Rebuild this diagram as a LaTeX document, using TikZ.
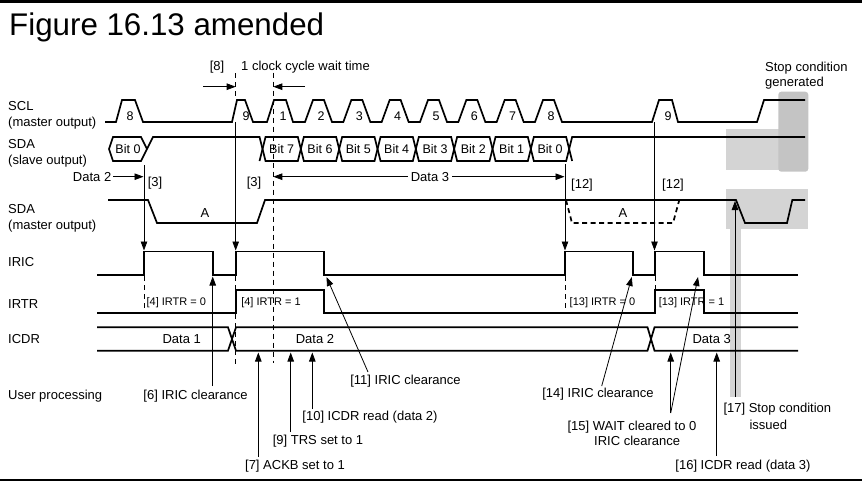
\documentclass[tikz,border=0pt]{standalone}
\usepackage{fontspec}
\setmainfont{Liberation Sans}
\usetikzlibrary{arrows.meta}
\begin{document}
\begin{tikzpicture}[x=1pt,y=-1pt,
  wave/.style={line width=1.7pt},
  wavedash/.style={line width=1.7pt,dash pattern=on 5pt off 3.5pt},
  arr/.style={line width=0.8pt,-{Triangle[length=9pt,width=6.5pt]}},
  plain/.style={line width=0.8pt},
  dashl/.style={line width=0.8pt,dash pattern=on 5pt off 4pt},
  tl/.style={font=\fontsize{13}{15}\selectfont,inner sep=0pt},
  ts/.style={font=\fontsize{11}{13}\selectfont,inner sep=0pt},
  tb/.style={font=\fontsize{12.5}{14}\selectfont,inner sep=0pt},
  lightbox/.style={fill=black!17},
  darkbox/.style={fill=black!23},
]
\useasboundingbox (0,0) rectangle (866,487);
% frame lines
\draw[line width=2.7pt] (0,1.3) -- (862,1.3);
\draw[line width=2.7pt] (0,480) -- (862,480);
% title
\node[font=\fontsize{31.3}{35}\selectfont,inner sep=0pt,anchor=base west] (title) at (9,35.7) {Figure 16.13 amended};

% gray highlight areas
\fill[lightbox] (726,129.3) rectangle (808,170);
\fill[darkbox,rounded corners=3pt] (778.3,91.7) rectangle (808.3,171.7);
\fill[lightbox] (726,189.3) rectangle (808.3,229.3);
\fill[lightbox] (730,229.3) rectangle (740.7,397.3);

% left labels
\node[tl,anchor=base west] (lscl) at (8,110) {SCL};
\node[tl,anchor=base west] (lsclm) at (8,126) {(master output)};
\node[tl,anchor=base west] (lsdas) at (8,148) {SDA};
\node[tl,anchor=base west] (lsdasm) at (8,164) {(slave output)};
\node[tl,anchor=base west] (lsdam) at (8,213) {SDA};
\node[tl,anchor=base west] (lsdamm) at (8,229) {(master output)};
\node[tl,anchor=base west] (liric) at (8,266) {IRIC};
\node[tl,anchor=base west] (lirtr) at (8,308) {IRTR};
\node[tl,anchor=base west] (licdr) at (8,343.5) {ICDR};
\node[tl,anchor=base west] (luser) at (8,399) {User processing};

% SCL
\draw[wave] (105,122) -- (116,122) -- (122,100) -- (135,100) -- (143,122)
  -- (232,122) -- (237,100) -- (245,100) -- (253,122)
  -- (267,122) -- (274,100) -- (286,100) -- (293,122)
  \foreach \s in {305,343.33,381.67,420,458.33,496.67,535} { -- (\s,122) -- (\s+8,100) -- (\s+19,100) -- (\s+27,122) }
  -- (652,122) -- (659,100) -- (672,100) -- (678,122) -- (757,122) -- (764,100) -- (805,100);
\node[tb] (p8a) at (130,116) {8};
\node[tb] (p9a) at (246,116) {9};
\node[tb] (p1) at (283,116) {1};
\foreach \s/\n in {305/2,343.33/3,381.67/4,420/5,458.33/6,496.67/7,535/8}
  \node[tb] (p\n) at (\s+16,116) {\n};
\node[tb] (p9b) at (668,116) {9};

% SDA slave output
\draw[wave] (147,149) -- (141,137) -- (113,137) -- (109,149) -- (113,161) -- (141,161) -- (153,137)
  -- (259.5,137) -- (265.5,161) -- (297.83,161) -- (303.83,137) -- (336.17,137) -- (342.17,161)
  -- (374.5,161) -- (380.5,137) -- (412.83,137) -- (418.83,161) -- (451.17,161) -- (457.17,137)
  -- (489.5,137) -- (495.5,161) -- (527.83,161) -- (533.83,137) -- (566.17,137) -- (572.17,161);
\draw[wave] (259.5,161) -- (265.5,137) -- (297.83,137) -- (303.83,161) -- (336.17,161) -- (342.17,137)
  -- (374.5,137) -- (380.5,161) -- (412.83,161) -- (418.83,137) -- (451.17,137) -- (457.17,161)
  -- (489.5,161) -- (495.5,137) -- (527.83,137) -- (533.83,161) -- (566.17,161) -- (572.17,137) -- (805,137);
\node[tb] (b0a) at (128,149) {Bit 0};
\foreach \x/\n in {281.67/7,320/6,358.33/5,396.67/4,435/3,473.33/2,511.67/1,550/0}
  \node[tb] (bit\n) at (\x,149) {Bit \n};

% SDA master output
\draw[wave] (108,200) -- (148,200) -- (157,223) -- (257,223) -- (265,200) -- (736,200) -- (745,223) -- (787,223) -- (792.3,200) -- (805,200);
\draw[wavedash] (566,200) -- (572,223) -- (673,223) -- (679.3,200);
\node[tl] (aa) at (205,213) {A};
\node[tl] (ab) at (623,213) {A};

% IRIC
\draw[wave] (97,275) -- (144,275) -- (144,251.5) -- (212.7,251.5) -- (212.7,275) -- (235.7,275) -- (235.7,251.5)
  -- (324.3,251.5) -- (324.3,275) -- (565,275) -- (565,251.5) -- (632.7,251.5) -- (632.7,275) -- (655,275)
  -- (655,251.5) -- (704.3,251.5) -- (704.3,275) -- (798,275);
% IRTR
\draw[wave] (97,313.3) -- (235.7,313.3) -- (235.7,290) -- (324.3,290) -- (324.3,313.3) -- (655,313.3)
  -- (655,290) -- (704.3,290) -- (704.3,313.3) -- (798,313.3);
\node[ts] (r4a) at (176.3,303) {[4] IRTR = 0};
\node[ts] (r4b) at (271,303) {[4] IRTR = 1};
\node[ts] (r13a) at (602.5,303) {[13] IRTR = 0};
\node[ts] (r13b) at (691.5,303) {[13] IRTR = 1};
% ICDR
\draw[wave] (97,327.3) -- (228,327.3) -- (236,350.7) -- (647.5,350.7) -- (654.5,327.3) -- (798,327.3);
\draw[wave] (97,350.7) -- (228,350.7) -- (236,327.3) -- (647.5,327.3) -- (654.5,350.7) -- (798,350.7);
\node[tl] (d1) at (181.7,339) {Data 1};
\node[tl] (d2) at (315,339) {Data 2};
\node[tl] (d3b) at (711.7,339) {Data 3};

% dashed reference lines
\draw[dashl] (273.3,72.5) -- (273.3,363);
\draw[dashl] (235.7,73) -- (235.7,97);
\draw[dashl] (235.7,276) -- (235.7,290);
\draw[dashl] (235.7,314) -- (235.7,365);
\draw[dashl] (144,276) -- (144,313);
\draw[dashl] (565,276) -- (565,313);
\draw[dashl] (655,276) -- (655,290);

% [8] wait time
\node[tl] (l8) at (217,67) {[8]};
\node[tl,anchor=west] (l8t) at (241,67) {1 clock cycle wait time};
\coordinate (w8a) at (203,86.7);
\coordinate (w8b) at (235.7,86.7);
\coordinate (w8c) at (305,86.7);
\coordinate (w8d) at (273.3,86.7);
\draw[arr] (w8a) -- (w8b);
\draw[arr] (w8c) -- (w8d);

% data 2 / data 3 markers
\node[tl,anchor=east] (dd2) at (111.5,176.7) {Data 2};
\coordinate (d2tip) at (143.5,176.7);
\draw[arr] (dd2.east) ++(1.5,0) -- (d2tip);
\node[tl] (l3a) at (155,183.3) {[3]};
\node[tl] (l3b) at (254,183.3) {[3]};
\node[tl,inner xsep=3pt] (dd3) at (430,176.7) {Data 3};
\coordinate (d3l) at (273.3,176.7);
\coordinate (d3r) at (564.5,176.7);
\draw[arr] (dd3.west) -- (d3l);
\draw[arr] (dd3.east) -- (d3r);
\node[tl] (l12a) at (582,185) {[12]};
\node[tl] (l12b) at (673,185) {[12]};

% vertical trigger arrows
\coordinate (v1s) at (144,165);   \coordinate (v1t) at (144,250.5);
\coordinate (v2s) at (235.7,122); \coordinate (v2t) at (235.7,250.5);
\coordinate (v3s) at (565,164);   \coordinate (v3t) at (565,250.5);
\coordinate (v4s) at (654.5,122); \coordinate (v4t) at (654.5,250.5);
\draw[arr] (v1s) -- (v1t);
\draw[arr] (v2s) -- (v2t);
\draw[arr] (v3s) -- (v3t);
\draw[arr] (v4s) -- (v4t);

% stop condition
\node[tl,anchor=west] (stop1) at (765,68.3) {Stop condition};
\node[tl,anchor=west] (stop2) at (765,83.3) {generated};

% user processing annotations
\node[tl] (l6) at (195.5,396) {[6] IRIC clearance};
\node[tl] (l11) at (405.5,381) {[11] IRIC clearance};
\node[tl] (l10) at (370,417) {[10] ICDR read (data 2)};
\node[tl] (l9) at (318,441) {[9] TRS set to 1};
\node[tl] (l7) at (295,466) {[7] ACKB set to 1};
\node[tl] (l14) at (598,394) {[14] IRIC clearance};
\node[tl,anchor=west] (l15a) at (567.3,426.7) {[15] WAIT cleared to 0};
\node[tl,anchor=west] (l15b) at (594,440.7) {IRIC clearance};
\node[tl] (l16) at (743,465.7) {[16] ICDR read (data 3)};
\node[tl,anchor=west] (l17a) at (723.3,409.3) {[17] Stop condition};
\node[tl,anchor=west] (l17b) at (749.3,425) {issued};

\coordinate (s6) at (212.7,386);   \coordinate (t6) at (212.7,276.5);
\coordinate (s7) at (258.3,457);   \coordinate (t7) at (258.3,352.5);
\coordinate (s9) at (290.7,432);   \coordinate (t9) at (290.7,352.5);
\coordinate (s10) at (312.3,409);  \coordinate (t10) at (312.3,352.5);
\coordinate (s11) at (368,372);    \coordinate (t11) at (326.5,277);
\coordinate (s14) at (601.7,386);  \coordinate (t14) at (631.8,277);
\coordinate (s15) at (670.7,413);  \coordinate (t15a) at (670.7,352.5); \coordinate (t15b) at (698,277);
\coordinate (s16) at (716.7,456);  \coordinate (t16) at (716.7,352.5);
\coordinate (s17) at (735,397);    \coordinate (t17) at (735,201);
\draw[arr] (s6) -- (t6);
\draw[arr] (s7) -- (t7);
\draw[arr] (s9) -- (t9);
\draw[arr] (s10) -- (t10);
\draw[arr] (s11) -- (t11);
\draw[arr] (s14) -- (t14);
\draw[arr] (s15) -- (t15a);
\draw[arr] (s15) -- (t15b);
\draw[arr] (s16) -- (t16);
\draw[arr] (s17) -- (t17);
\end{tikzpicture}
\end{document}
